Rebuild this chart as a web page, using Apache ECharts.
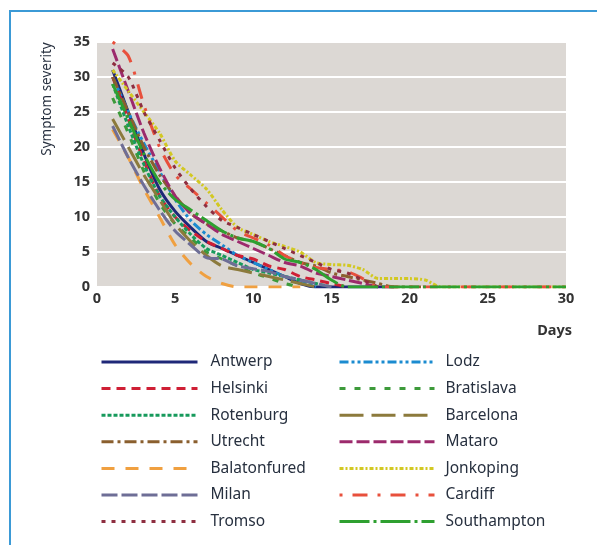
<!DOCTYPE html>
<html>
<head>
<meta charset="utf-8">
<script src="https://cdn.jsdelivr.net/npm/echarts@6/dist/echarts.min.js"></script>
<style>html,body{margin:0;padding:0;background:#fff}#c{width:597px;height:545px}</style>
</head>
<body>
<div id="c"></div>
<script>
var days = [];
for (var i = 1; i <= 30; i++) days.push(i);

var cities = ['Antwerp','Lodz','Helsinki','Bratislava','Rotenburg','Barcelona','Utrecht','Mataro','Balatonfured','Jonkoping','Milan','Cardiff','Tromso','Southampton'];
var leftCol = ['Antwerp','Helsinki','Rotenburg','Utrecht','Balatonfured','Milan','Tromso'];
var rightCol = ['Lodz','Bratislava','Barcelona','Mataro','Jonkoping','Cardiff','Southampton'];

var antwerp      = [31,25,19,14,10.8,8.5,6.5,5.5,4.5,3.5,2.5,1.5,0.5,0,0,0,0,0,0];
var lodz         = [30,25,20.5,16.5,12.5,9.5,7.5,6,4.5,3.5,2.5,1.5,1,0];
var helsinki     = [30,24,18,13,10,8,6.5,5.5,4.5,4,3,2.5,1.5,1,0.5,0];
var bratislava   = [27,22,16.5,12,9,7,5,4,3,2,1.3,0.5,0];
var rotenburg    = [29,23,17.5,13,10,7.5,5.5,4.5,3.5,2.5,2,1.5,1,0.5,0];
var barcelona    = [24,20,16,12.5,9,6.5,4.5,3,2.5,2,1.5,1,0.5,0];
var utrecht      = [30,25,20,16,13,10.5,9,8,7,6.5,5.5,4.5,3.5,3,2,1.5,1,0.5,0,0,0];
var mataro       = [34,28,22,17,13,10.5,9,7.5,6.5,5.5,4.5,3.5,3,2,1.5,1,0.5,0];
var balatonfured = [22.5,18.5,14,10,6,3.3,1.5,0.5,0,0,0,0,0];
var jonkoping    = [31,28,25,22,18,16,14,11,8.5,7.5,6.5,5.8,5,3.5,3.2,3.1,2.5,1.2,1.2,1.2,1,0,0,0,0,0,0,0,0,0];
var milan        = [23,18.5,14.5,11,8,6,4.2,4,3,2.6,2.2,1.5,1,0.5,0];
var cardiff      = [35,33,26,20,16,14,12,10,8,7,6,4.5,3.5,2.8,2.5,2.2,1.2,0,0,0,0,0,0,0,0,0,0,0,0,0];
var tromso       = [32,30,25,21,17,14,11.5,9.5,8.5,7.5,6.5,5.5,4.5,3.5,2.5,2,1,0];
var southampton  = [29,24,19,15,12.5,11,9.5,8,7,6.5,5.5,4,3.5,2.5,1,0,0,0,0,0,0,0,0,0,0,0,0,0,0,0];

var yTicks = [0,5,10,15,20,25,30,35];
var xTicks = [0,5,10,15,20,25,30];

var values = {Antwerp:antwerp,Lodz:lodz,Helsinki:helsinki,Bratislava:bratislava,Rotenburg:rotenburg,Barcelona:barcelona,Utrecht:utrecht,Mataro:mataro,Balatonfured:balatonfured,Jonkoping:jonkoping,Milan:milan,Cardiff:cardiff,Tromso:tromso,Southampton:southampton};

var styles = {
  Antwerp:      {color:'#1f2878', type:'solid'},
  Lodz:         {color:'#1b8bd0', type:[9,3,3,3,3,3]},
  Helsinki:     {color:'#cf1f35', type:[9,6]},
  Bratislava:   {color:'#3d9a3a', type:[6,9]},
  Rotenburg:    {color:'#179a5c', type:[4,2]},
  Barcelona:    {color:'#8c7a3c', type:[24,8]},
  Utrecht:      {color:'#8a5f2e', type:[12,4,3,4]},
  Mataro:       {color:'#9c2a6c', type:[13,4]},
  Balatonfured: {color:'#f0a040', type:[13,11]},
  Jonkoping:    {color:'#d2c822', type:[4,2,2,2]},
  Milan:        {color:'#6e6e96', type:[16,4]},
  Cardiff:      {color:'#e8503c', type:[3,10,15,10]},
  Tromso:       {color:'#8e2e40', type:[4,6]},
  Southampton:  {color:'#2ea030', type:[30,4,3,4]}
};

var series = cities.map(function (name) {
  var v = values[name];
  return {
    name: name,
    type: 'line',
    symbol: 'none',
    showSymbol: false,
    smooth: 0.25,
    data: v.map(function (y, k) { return [days[k], y]; }),
    lineStyle: {color: styles[name].color, type: styles[name].type, width: 3},
    itemStyle: {color: styles[name].color}
  };
});

var font = 'Noto Sans';
var legendBase = {
  orient: 'vertical',
  itemWidth: 96,
  itemHeight: 14,
  itemGap: 10.6,
  padding: 0,
  height: 200,
  itemStyle: {opacity: 0},
  lineStyle: {width: 3},
  textStyle: {fontFamily: font, fontSize: 15.5, lineHeight: 14, color: '#27303f'}
};

var chart = echarts.init(document.getElementById('c'));
chart.setOption({
  animation: false,
  backgroundColor: '#fff',
  grid: {left: 97, right: 31, top: 42, bottom: 258, backgroundColor: '#dcd8d4', show: true, borderWidth: 0, outerBoundsMode: 'none', containLabel: false},
  xAxis: {
    type: 'value', min: 0, max: 30, interval: 5,
    axisLine: {show: false}, axisTick: {show: false}, splitLine: {show: false},
    axisLabel: {fontFamily: font, fontSize: 14.5, fontWeight: 'bold', color: '#333', margin: 4,
      formatter: function (v) { return xTicks.indexOf(v) >= 0 ? String(v) : ''; }}
  },
  yAxis: {
    type: 'value', min: 0, max: 35, interval: 5,
    axisLine: {show: false}, axisTick: {show: false},
    splitLine: {show: true, lineStyle: {color: '#ffffff', width: 2}},
    axisLabel: {fontFamily: font, fontSize: 14.5, fontWeight: 'bold', color: '#333', margin: 7,
      formatter: function (v) { return yTicks.indexOf(v) >= 0 ? String(v) : ''; }}
  },
  legend: [
    Object.assign({}, legendBase, {left: 100, top: 354, data: leftCol,
      textStyle: Object.assign({}, legendBase.textStyle, {padding: [0,0,0,8]})}),
    Object.assign({}, legendBase, {left: 338, top: 354, itemWidth: 95, data: rightCol,
      textStyle: Object.assign({}, legendBase.textStyle, {padding: [0,0,0,6]})})
  ],
  graphic: [
    {type: 'line', shape: {x1: 10, y1: 11, x2: 10, y2: 545}, style: {stroke: '#3b9ad6', lineWidth: 2}},
    {type: 'line', shape: {x1: 9, y1: 11, x2: 597, y2: 11}, style: {stroke: '#3b9ad6', lineWidth: 2}},
    {type: 'text', x: 47, y: 99, rotation: Math.PI / 2,
      style: {text: 'Symptom severity', fontFamily: font, fontSize: 13.5, fill: '#27303f', align: 'center', verticalAlign: 'middle'}},
    {type: 'text', x: 572, y: 331,
      style: {text: 'Days', fontFamily: font, fontSize: 14.5, fontWeight: 'bold', fill: '#333', align: 'right', verticalAlign: 'middle'}}
  ],
  series: series
});
</script>
</body>
</html>
